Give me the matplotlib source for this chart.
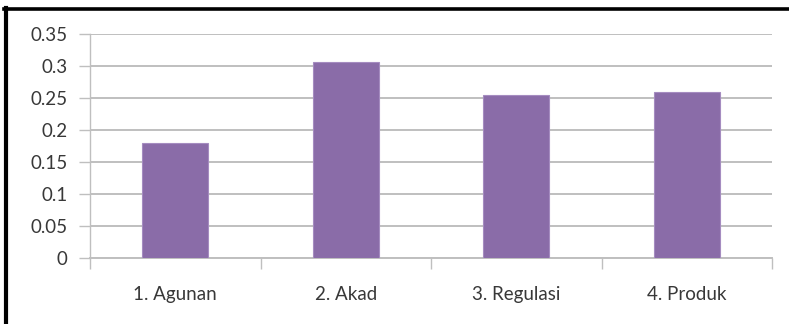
import matplotlib
matplotlib.use("Agg")
import matplotlib.pyplot as plt
from matplotlib.lines import Line2D
import numpy as np

categories = ["1. Agunan", "2. Akad", "3. Regulasi", "4. Produk"]
values = [0.179, 0.306, 0.254, 0.260]
y_ticks = [0, 0.05, 0.1, 0.15, 0.2, 0.25, 0.3, 0.35]
y_labels = ["0", "0.05", "0.1", "0.15", "0.2", "0.25", "0.3", "0.35"]

plt.rcParams["font.family"] = ["Lato", "DejaVu Sans"]

W, H = 789, 324
fig = plt.figure(figsize=(W / 100, H / 100), dpi=100)
ax = fig.add_axes([90 / W, 66 / H, (772 - 90) / W, 224 / H])

x = np.arange(len(categories))
ax.bar(x, values, width=0.39, color="#8A6CA8", edgecolor="#A58CC0", linewidth=0.8, zorder=3)

ax.set_xlim(-0.5, len(categories) - 0.5)
ax.set_ylim(0, 0.35)

grid_col = "#BFBFBF"
ax.set_yticks(y_ticks)
ax.set_yticklabels(y_labels)
ax.yaxis.grid(True, color=grid_col, linewidth=1.4, zorder=0)
ax.tick_params(axis="y", length=8, width=1.0, color=grid_col, pad=8,
               labelsize=13.5, labelcolor="#383838")

ax.set_xticks(x)
ax.set_xticklabels(categories)
ax.set_xticks(np.arange(len(categories) + 1) - 0.5, minor=True)
ax.tick_params(axis="x", which="major", length=0, pad=20, labelsize=13.5, labelcolor="#383838")
ax.tick_params(axis="x", which="minor", length=8, width=1.0, color=grid_col)

for side in ["top", "right"]:
    ax.spines[side].set_visible(False)
ax.spines["left"].set_color(grid_col)
ax.spines["bottom"].set_color(grid_col)
ax.spines["left"].set_linewidth(1.0)
ax.spines["bottom"].set_linewidth(1.4)

# black frame on top and left
fig.add_artist(Line2D([4 / W, 1], [1 - 9 / H, 1 - 9 / H], color="black", linewidth=2.6,
                      transform=fig.transFigure))
fig.add_artist(Line2D([6 / W, 6 / W], [0, 1 - 8 / H], color="black", linewidth=3.0,
                      transform=fig.transFigure))

fig.savefig("out.png", dpi=100)
